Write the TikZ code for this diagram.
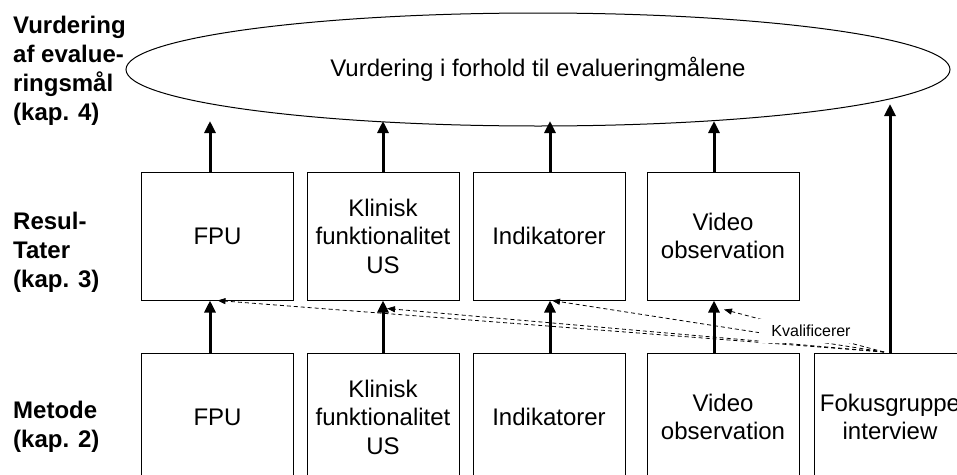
\documentclass[tikz,border=0pt]{standalone}
\usepackage{fontspec}
\setmainfont{Liberation Sans}
\usetikzlibrary{arrows.meta,shapes.geometric}
\begin{document}
\begin{tikzpicture}[x=1pt,y=-1pt,
  box/.style={draw,line width=1pt,minimum width=152pt,minimum height=128pt,inner sep=0pt,align=center,font=\fontsize{24}{28.5}\selectfont},
  lbl/.style={anchor=west,align=left,inner sep=0pt,font=\fontsize{24}{29}\selectfont\bfseries},
  bigarrow/.style={line width=3pt,-{Triangle[width=11pt,length=12pt]}},
  qarrow/.style={line width=0.8pt,dash pattern=on 4pt off 3pt,-{Triangle[width=6pt,length=8pt]}},
  qlabel/.style={fill=white,inner xsep=12pt,inner ysep=6pt,font=\fontsize{16}{19}\selectfont}
]
\useasboundingbox (0,0) rectangle (957,474);
\begin{scope}
\clip (0,0) rectangle (957,474);
% ellipse
\node[draw,ellipse,line width=1pt,minimum width=824pt,minimum height=113pt,inner sep=0pt,
      font=\fontsize{24}{29}\selectfont] (ell) at (538,69.5) {Vurdering i forhold til evalueringmålene};
% left labels
\node[lbl] (l4) at (13,71) {Vurdering\\af evalue-\\ringsmål\\(kap. 4)};
\node[lbl] (l3) at (13,252) {Resul-\\Tater\\(kap. 3)};
\node[lbl] (l2) at (13,427) {Metode\\(kap. 2)};
% result boxes
\node[box] (r1) at (217.5,236) {FPU};
\node[box] (r2) at (383,236) {Klinisk\\funktionalitet\\US};
\node[box] (r3) at (549,236) {Indikatorer};
\node[box] (r4) at (723,236) {Video\\observation};
% method boxes
\node[box] (m1) at (217.5,417) {FPU};
\node[box] (m2) at (383,417) {Klinisk\\funktionalitet\\US};
\node[box] (m3) at (549,417) {Indikatorer};
\node[box] (m4) at (723,417) {Video\\observation};
\node[box] (m5) at (890,417) {Fokusgruppe\\interview};
% arrow x positions and tips
\coordinate (x1) at (210,0);
\coordinate (x2) at (383,0);
\coordinate (x3) at (550,0);
\coordinate (x4) at (714,0);
\coordinate (tip) at (0,121);
\coordinate (etip) at (0,104);
\foreach \i in {1,2,3,4}{
  \draw[bigarrow] (x\i |- m\i.north) -- (x\i |- r\i.south);
  \draw[bigarrow] (x\i |- r\i.north) -- (x\i |- tip);
}
\draw[bigarrow] (m5.north) -- (m5.north |- etip);
% qualifying dashed arrows
\coordinate (kq) at (884,352);
\draw[qarrow] (kq) -- (r1.south);
\draw[qarrow] (kq) -- ([xshift=4pt,yshift=-8pt]r2.south);
\draw[qarrow] (kq) -- ([xshift=3pt]r3.south);
\draw[qarrow] (kq) -- ([xshift=1pt,yshift=-9pt]r4.south);
\node[qlabel] (kl) at (811,331) {Kvalificerer};
\end{scope}
\end{tikzpicture}
\end{document}
